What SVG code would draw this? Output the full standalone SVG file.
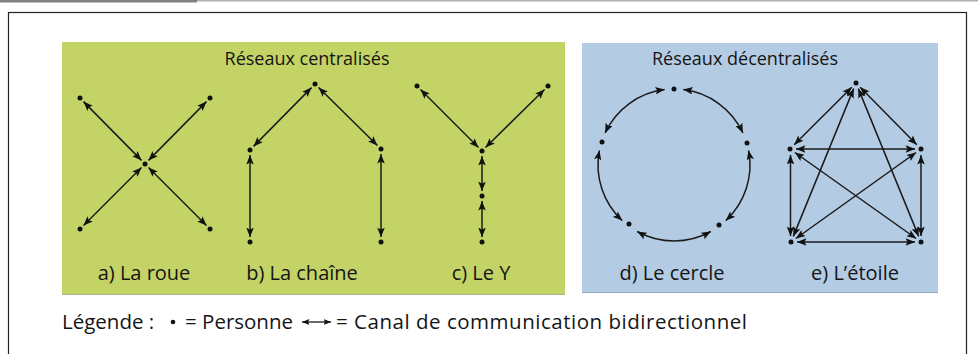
<svg xmlns="http://www.w3.org/2000/svg" width="978" height="354" viewBox="0 0 978 354">
<style>
.txt{font-family:"Open Sans","Noto Sans","Liberation Sans",sans-serif;fill:#151515}
.ttl{text-anchor:middle;font-size:18px}
.lbl{text-anchor:middle;font-size:20px}
.leg{font-size:20.5px}
.dot{fill:#111}
.ln{stroke:#1a1a1a;stroke-width:1.5;fill:none;marker-start:url(#ah);marker-end:url(#ah)}
</style>
<defs>
<marker id="ah" viewBox="0 0 10 8" refX="10" refY="4" markerWidth="10" markerHeight="7.5" markerUnits="userSpaceOnUse" orient="auto-start-reverse">
<path d="M0,0 L10,4 L0,8 L2,4 Z" fill="#111"/>
</marker>
<marker id="ahs" viewBox="0 0 10 8" refX="10" refY="4" markerWidth="7.5" markerHeight="6" markerUnits="userSpaceOnUse" orient="auto-start-reverse">
<path d="M0,0 L10,4 L0,8 L2,4 Z" fill="#111"/>
</marker>
</defs>
<rect x="0" y="0" width="978" height="354" fill="#fff"/>
<rect x="0" y="0" width="978" height="1.5" fill="#b0b0b0"/>
<rect x="0" y="0" width="197" height="2.5" fill="#808080"/>
<rect x="8.5" y="12.5" width="958" height="360" fill="none" stroke="#222" stroke-width="1.2"/>

<g id="panel-centralises">
<rect x="62" y="42" width="503" height="253" fill="#c3d365"/>
<line x1="62" y1="294.5" x2="565" y2="294.5" stroke="#a9b58a" stroke-width="1"/>
<text class="txt ttl" x="307" y="65">Réseaux centralisés</text>
</g>
<g id="panel-decentralises">
<rect x="582" y="43" width="356" height="250" fill="#b4cbe4"/>
<line x1="582" y1="292.5" x2="938" y2="292.5" stroke="#97a7b8" stroke-width="1"/>
<text class="txt ttl" x="745" y="65">Réseaux décentralisés</text>
</g>

<g id="roue">
<circle class="dot" cx="80" cy="98" r="2.5"/>
<circle class="dot" cx="210" cy="98" r="2.5"/>
<circle class="dot" cx="145" cy="164" r="2.5"/>
<circle class="dot" cx="80" cy="229" r="2.5"/>
<circle class="dot" cx="210" cy="229" r="2.5"/>
<text class="txt lbl" x="144" y="280">a) La roue</text>
</g>
<g id="chaine">
<circle class="dot" cx="315" cy="84" r="2.5"/>
<circle class="dot" cx="250" cy="150" r="2.5"/>
<circle class="dot" cx="250" cy="242" r="2.5"/>
<circle class="dot" cx="381" cy="149" r="2.5"/>
<circle class="dot" cx="381" cy="242" r="2.5"/>
<text class="txt lbl" x="302" y="280">b) La chaîne</text>
</g>
<g id="y">
<circle class="dot" cx="417" cy="86" r="2.5"/>
<circle class="dot" cx="548" cy="86" r="2.5"/>
<circle class="dot" cx="482" cy="151" r="2.5"/>
<circle class="dot" cx="482" cy="196" r="2.5"/>
<circle class="dot" cx="482" cy="242" r="2.5"/>
<text class="txt lbl" x="481" y="280">c) Le Y</text>
</g>
<g id="cercle">
<circle class="dot" cx="674" cy="89" r="2.5"/>
<circle class="dot" cx="747" cy="143" r="2.5"/>
<circle class="dot" cx="719" cy="225" r="2.5"/>
<circle class="dot" cx="629" cy="224" r="2.5"/>
<circle class="dot" cx="602" cy="142" r="2.5"/>
<text class="txt lbl" x="672" y="280">d) Le cercle</text>
</g>
<g id="etoile">
<circle class="dot" cx="856" cy="83" r="2.5"/>
<circle class="dot" cx="790" cy="149" r="2.5"/>
<circle class="dot" cx="921" cy="149" r="2.5"/>
<circle class="dot" cx="791" cy="242" r="2.5"/>
<circle class="dot" cx="921" cy="242" r="2.5"/>
<text class="txt lbl" x="855" y="280">e) L’étoile</text>
</g>

<g id="connecteurs">
<line class="ln" x1="83.5" y1="101.6" x2="141.5" y2="160.4"/>
<line class="ln" x1="206.5" y1="101.6" x2="148.5" y2="160.4"/>
<line class="ln" x1="83.5" y1="225.5" x2="141.5" y2="167.5"/>
<line class="ln" x1="206.5" y1="225.5" x2="148.5" y2="167.5"/>

<line class="ln" x1="311.5" y1="87.6" x2="253.5" y2="146.4"/>
<line class="ln" x1="318.6" y1="87.5" x2="377.4" y2="145.5"/>
<line class="ln" x1="250" y1="155" x2="250" y2="237"/>
<line class="ln" x1="381" y1="154" x2="381" y2="237"/>

<line class="ln" x1="420.5" y1="89.5" x2="478.5" y2="147.5"/>
<line class="ln" x1="544.5" y1="89.5" x2="485.5" y2="147.5"/>
<line class="ln" x1="482" y1="156" x2="482" y2="191"/>
<line class="ln" x1="482" y1="201" x2="482" y2="237"/>

<path class="ln" d="M683.3,89.6 A76,76 0 0 1 742.9,132.9"/>
<path class="ln" d="M748.6,150.5 A76,76 0 0 1 725.8,220.6"/>
<path class="ln" d="M710.8,231.5 A76,76 0 0 1 637.2,231.5"/>
<path class="ln" d="M622.2,220.6 A76,76 0 0 1 599.4,150.5"/>
<path class="ln" d="M605.1,132.9 A76,76 0 0 1 664.7,89.6"/>

<line class="ln" x1="851.8" y1="87.2" x2="794.2" y2="144.8"/>
<line class="ln" x1="860.2" y1="87.3" x2="916.8" y2="144.7"/>
<line class="ln" x1="853.7" y1="88.6" x2="793.3" y2="236.4"/>
<line class="ln" x1="858.3" y1="88.6" x2="918.7" y2="236.4"/>
<line class="ln" x1="796" y1="149" x2="915" y2="149"/>
<line class="ln" x1="790.5" y1="155" x2="790.5" y2="236"/>
<line class="ln" x1="921" y1="155" x2="921" y2="236"/>
<line class="ln" x1="794.9" y1="152.5" x2="916.1" y2="238.5"/>
<line class="ln" x1="916.1" y1="152.5" x2="795.9" y2="238.5"/>
<line class="ln" x1="797" y1="242" x2="915" y2="242"/>
</g>

<g id="legende">
<text class="txt leg" x="62" y="329">Légende :</text>
<circle class="dot" cx="173" cy="322" r="2.3"/>
<text class="txt leg" x="185" y="329">= Personne</text>
<line x1="302" y1="322" x2="331" y2="322" stroke="#1a1a1a" stroke-width="1.3" marker-start="url(#ahs)" marker-end="url(#ahs)"/>
<text class="txt leg" x="336" y="329" textLength="411" lengthAdjust="spacing">= Canal de communication bidirectionnel</text>
</g>
</svg>
